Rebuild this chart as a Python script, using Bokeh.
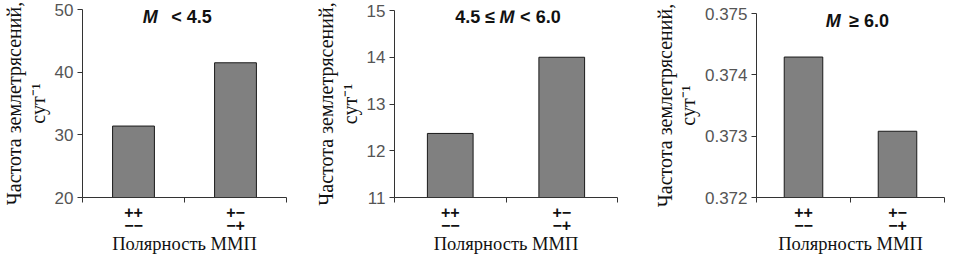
from bokeh.plotting import figure
from bokeh.layouts import row, column
from bokeh.models import FixedTicker, Label, ColumnDataSource, Spacer
from bokeh.embed import file_html
from bokeh.resources import INLINE

# ---- data ----
categories = ["++\n\u2212\u2212", "+\u2212\n\u2212+"]
x_title = "Полярность ММП"
y_title = "Частота землетрясений,\nсут\u207b\u00b9"

values_low = [31.4, 41.5]          # M < 4.5
values_mid = [12.37, 14.0]         # 4.5 <= M < 6.0
values_high = [0.37429, 0.37308]   # M >= 6.0

yticks_low = [20, 30, 40, 50]
yticks_mid = [11, 12, 13, 14, 15]
yticks_high = [0.372, 0.373, 0.374, 0.375]

titles = [("", "M", "< 4.5"), ("4.5 \u2264", "M", "< 6.0"), ("", "M", "\u2265 6.0")]

# ---- layout / style (not data) ----
specs = [
    dict(values=values_low, yticks=yticks_low, title=titles[0], width=312, dy=0,
         bl=71, br=26, tx=0.665, t_px=8, pre=-10, post=21),
    dict(values=values_mid, yticks=yticks_mid, title=titles[1], width=320, dy=1,
         bl=80, br=15, tx=1.01, t_px=7, pre=-12, post=13),
    dict(values=values_high, yticks=yticks_high, title=titles[2], width=316, dy=4,
         bl=124, br=4, tx=0.816, t_px=8, pre=-10, post=16),
]

SANS = "Liberation Sans"
SERIF = "Liberation Serif"
FRAME_H = 190.0

cols = []
for s in specs:
    yt = s["yticks"]
    y0, y1 = yt[0], yt[-1]
    span = y1 - y0
    n = len(categories)
    xs = [i + 0.5 for i in range(n)]
    p = figure(width=s["width"], height=257 - s["dy"], x_range=(0, n), y_range=(y0, y1),
               output_backend="svg", toolbar_location=None,
               min_border_left=s["bl"], min_border_right=s["br"],
               min_border_top=9, min_border_bottom=0)
    p.outline_line_color = None
    p.grid.visible = False
    p.background_fill_color = "white"
    p.border_fill_color = "white"

    src = ColumnDataSource(dict(x=xs, top=s["values"]))
    p.vbar(x="x", top="top", bottom=y0, width=0.41, source=src,
           fill_color="#808080", line_color="#1a1a1a", line_width=1)

    # x axis: category labels under bars, tick marks between categories
    xa = p.xaxis[0]
    xa.ticker = FixedTicker(ticks=xs, minor_ticks=list(range(n + 1)))
    xa.major_label_overrides = {x: c for x, c in zip(xs, categories)}
    xa.major_label_text_font = SANS
    xa.major_label_text_font_style = "bold"
    xa.major_label_text_font_size = "16px"
    xa.major_label_text_line_height = 0.8
    xa.major_label_text_color = "#111111"
    xa.major_label_standoff = 1
    xa.major_tick_out = 5
    xa.major_tick_in = 0
    xa.major_tick_line_color = None
    xa.minor_tick_out = 5
    xa.minor_tick_in = 0
    xa.minor_tick_line_color = "#333333"
    xa.axis_line_color = "#333333"
    xa.axis_label = x_title
    xa.axis_label_text_font = SERIF
    xa.axis_label_text_font_style = "normal"
    xa.axis_label_text_font_size = "18.5px"
    xa.axis_label_text_line_height = 0.75
    xa.axis_label_text_color = "#111111"
    xa.axis_label_standoff = -3

    # y axis
    ya = p.yaxis[0]
    ya.ticker = FixedTicker(ticks=yt, minor_ticks=[])
    ya.major_tick_out = 5
    ya.major_tick_in = 0
    ya.major_tick_line_color = "#333333"
    ya.axis_line_color = "#333333"
    ya.major_label_standoff = 4
    ya.major_label_text_font = SANS
    ya.major_label_text_font_size = "17px"
    ya.major_label_text_color = "#555555"
    ya.axis_label = y_title
    ya.axis_label_text_font = SERIF
    ya.axis_label_text_font_style = "normal"
    ya.axis_label_text_font_size = "20px"
    ya.axis_label_text_line_height = 1.05
    ya.axis_label_text_color = "#111111"
    ya.axis_label_standoff = 3

    # title pieces
    pre, mid, post = s["title"]
    ty = y1 - s["t_px"] / FRAME_H * span
    common = dict(x=s["tx"], y=ty, text_font=SANS, text_font_size="18px",
                  text_baseline="middle", text_color="#111111")
    p.add_layout(Label(text=mid, text_align="center", text_font_style="bold italic", **common))
    if pre:
        p.add_layout(Label(text=pre, text_align="right", x_offset=s["pre"],
                           text_font_style="bold", **common))
    if post:
        p.add_layout(Label(text=post, text_align="left", x_offset=s["post"],
                           text_font_style="bold", **common))
    if s["dy"]:
        cols.append(column(Spacer(width=s["width"], height=s["dy"]), p))
    else:
        cols.append(p)

layout = row(*cols)
open("out.html", "w").write(file_html(layout, INLINE))
